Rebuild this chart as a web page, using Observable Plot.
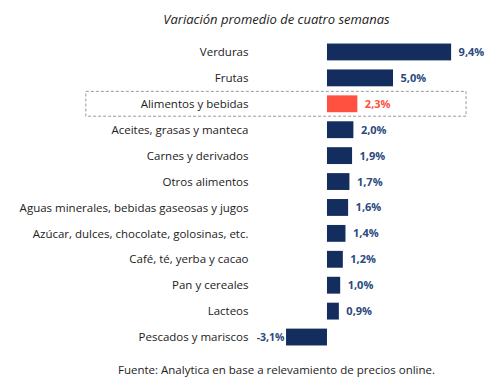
<!DOCTYPE html>
<html><head><meta charset="utf-8">
<script src="https://cdn.jsdelivr.net/npm/d3@7"></script>
<script src="https://cdn.jsdelivr.net/npm/@observablehq/plot@0.6"></script>
<style>
body{margin:0;background:#fff;font-family:"Open Sans",sans-serif;}
#wrap{width:495px;}
#title{height:35px;box-sizing:border-box;padding-top:11px;text-align:center;font-style:italic;font-size:13px;color:#222;padding-left:58px;line-height:16px;}
#caption{text-align:center;font-size:11.5px;color:#222;padding-left:58px;margin-top:7px;}
</style></head>
<body><div id="wrap">
<div id="title">Variación promedio de cuatro semanas</div>
<div id="chart"></div>
<div id="caption">Fuente: Analytica en base a relevamiento de precios online.</div>
</div>
<script>
const categories = ["Verduras","Frutas","Alimentos y bebidas","Aceites, grasas y manteca","Carnes y derivados","Otros alimentos","Aguas minerales, bebidas gaseosas y jugos","Azúcar, dulces, chocolate, golosinas, etc.","Café, té, yerba y cacao","Pan y cereales","Lacteos","Pescados y mariscos"];
const values = [9.4,5.0,2.3,2.0,1.9,1.7,1.6,1.4,1.2,1.0,0.9,-3.1];
const highlight = "Alimentos y bebidas";

const data = categories.map((c,i)=>({cat:c, v:values[i], hl: c===highlight}));
const fmt = v => (v<0?"-":"") + Math.abs(v).toFixed(1).replace(".",",") + "%";
const navy = "#132d5e", red = "#ff5040", labelBlue = "#2b4a80";

const chart = Plot.plot({
  width: 495, height: 320,
  marginLeft: 255, marginRight: 25, marginTop: 4, marginBottom: 5,
  style: {fontFamily: "Open Sans, sans-serif", fontSize: "11px", color: "#222", overflow: "visible"},
  x: {domain: [-5.45, 10.83], axis: null},
  y: {domain: categories, paddingInner: 0.35, paddingOuter: 0.175, round: false, label: null},
  marks: [
    Plot.barX([{cat: highlight}], {y: "cat", x1: -18.26, x2: 10.53, fill: "none", stroke: "#999", strokeDasharray: "3,2", insetTop: -4, insetBottom: -4}),
    Plot.ruleX([0], {stroke: "#ddd", y1: categories[0], y2: categories[categories.length-1], insetTop: -12, insetBottom: -12}),
    Plot.barX(data, {y: "cat", x: "v", fill: d => d.hl ? red : navy}),
    Plot.text(data.filter(d => d.v >= 0), {y: "cat", x: "v", text: d => fmt(d.v), textAnchor: "start", dx: 7,
      fill: d => d.hl ? red : labelBlue, fontWeight: "bold", fontSize: 11}),
    Plot.text(data.filter(d => d.v < 0), {y: "cat", x: "v", text: d => fmt(d.v), textAnchor: "end", dx: -2,
      fill: d => d.hl ? red : labelBlue, fontWeight: "bold", fontSize: 10.5}),
    Plot.axisY({tickSize: 0, tickPadding: 7, fontSize: 11.5, label: null})
  ]
});
document.getElementById("chart").appendChild(chart);
</script>
</body></html>
